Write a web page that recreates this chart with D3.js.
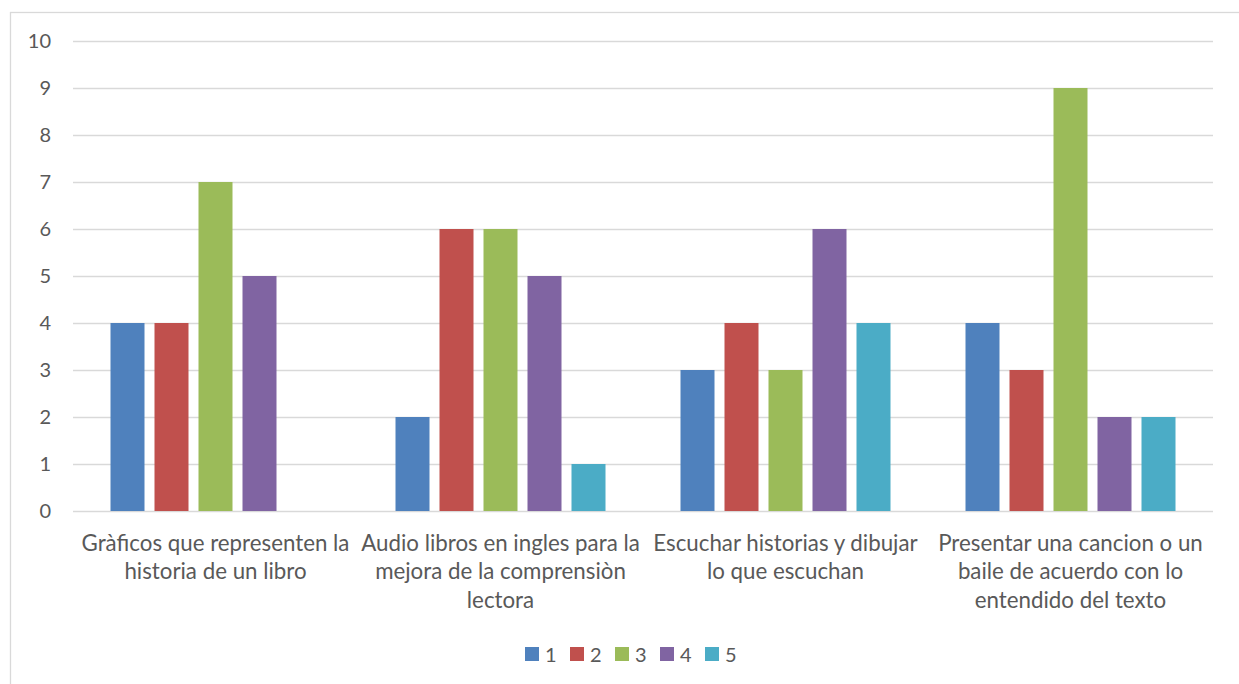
<!DOCTYPE html>
<html>
<head>
<meta charset="utf-8">
<script src="https://cdn.jsdelivr.net/npm/d3@7"></script>
<style>
  html, body { margin: 0; padding: 0; background: #fff; }
  svg { display: block; font-family: Lato, "Open Sans", sans-serif; }
</style>
</head>
<body>
<svg id="chart" width="1239" height="684"></svg>
<script>
// Category labels, one entry per line of the wrapped label
const categories = [
  ["Gràficos que representen la", "historia de un libro"],
  ["Audio libros en ingles para la", "mejora de la comprensiòn", "lectora"],
  ["Escuchar historias y dibujar", "lo que escuchan"],
  ["Presentar una cancion o un", "baile de acuerdo con lo", "entendido del texto"]
];
const seriesNames = ["1", "2", "3", "4", "5"];
const seriesColors = ["#4F81BD", "#C0504D", "#9BBB59", "#8064A2", "#4BACC6"];
// Values per series, in category order
const series1 = [4, 2, 3, 4];
const series2 = [4, 6, 4, 3];
const series3 = [7, 6, 3, 9];
const series4 = [5, 5, 6, 2];
const series5 = [0, 1, 4, 2];
const yTicks = [0, 1, 2, 3, 4, 5, 6, 7, 8, 9, 10];

const seriesValues = [series1, series2, series3, series4, series5];
const svg = d3.select("#chart");
const textColor = "#595959";

// Outer chart frame
svg.append("rect")
  .attr("x", 10.5).attr("y", 12.5)
  .attr("width", 1240).attr("height", 690)
  .attr("fill", "#fff").attr("stroke", "#d9d9d9").attr("stroke-width", 1.3);

const plotLeft = 73, plotRight = 1213, plotTop = 41, plotBottom = 511;

const x = d3.scaleBand().domain(d3.range(categories.length)).range([plotLeft, plotRight]).padding(0);
const xs = d3.scaleBand().domain(seriesNames)
  .range([37.5, x.bandwidth() - 37.5]).paddingInner(10 / 44).paddingOuter(0);
const y = d3.scaleLinear().domain([0, 10]).range([plotBottom, plotTop]);

// Gridlines and tick labels
const yAxis = d3.axisLeft(y).tickValues(yTicks).tickSize(-(plotRight - plotLeft)).tickPadding(22);
const gy = svg.append("g").attr("transform", `translate(${plotLeft},0)`).call(yAxis);
gy.select(".domain").remove();
gy.selectAll(".tick line").attr("stroke", "#d9d9d9").attr("stroke-width", 1.5);
gy.selectAll(".tick text")
  .attr("fill", textColor).style("font-size", "20px").style("font-family", "Lato, sans-serif");

// Bars
const rows = [];
categories.forEach((c, i) => {
  seriesNames.forEach((s, j) => rows.push({ cat: i, s, j, v: seriesValues[j][i] }));
});
svg.append("g").selectAll("rect")
  .data(rows.filter(d => d.v > 0))
  .join("rect")
  .attr("x", d => x(d.cat) + xs(d.s))
  .attr("y", d => y(d.v))
  .attr("width", xs.bandwidth())
  .attr("height", d => y(0) - y(d.v))
  .attr("fill", d => seriesColors[d.j]);

// Category labels
const lab = svg.append("g").selectAll("text")
  .data(categories)
  .join("text")
  .attr("text-anchor", "middle")
  .attr("fill", textColor)
  .style("font-size", "22.3px");
lab.each(function (lines, i) {
  d3.select(this).selectAll("tspan")
    .data(lines)
    .join("tspan")
    .attr("x", x(i) + x.bandwidth() / 2)
    .attr("y", (d, k) => 551 + k * 28.3)
    .text(d => d);
});

// Legend
const legendStart = 525, legendStep = 45;
const lg = svg.append("g").selectAll("g")
  .data(seriesNames)
  .join("g")
  .attr("transform", (d, i) => `translate(${legendStart + i * legendStep},647)`);
lg.append("rect").attr("width", 14).attr("height", 14).attr("fill", (d, i) => seriesColors[i]);
lg.append("text").attr("x", 20).attr("y", 14.5)
  .attr("fill", textColor).style("font-size", "20px").text(d => d);
</script>
</body>
</html>
